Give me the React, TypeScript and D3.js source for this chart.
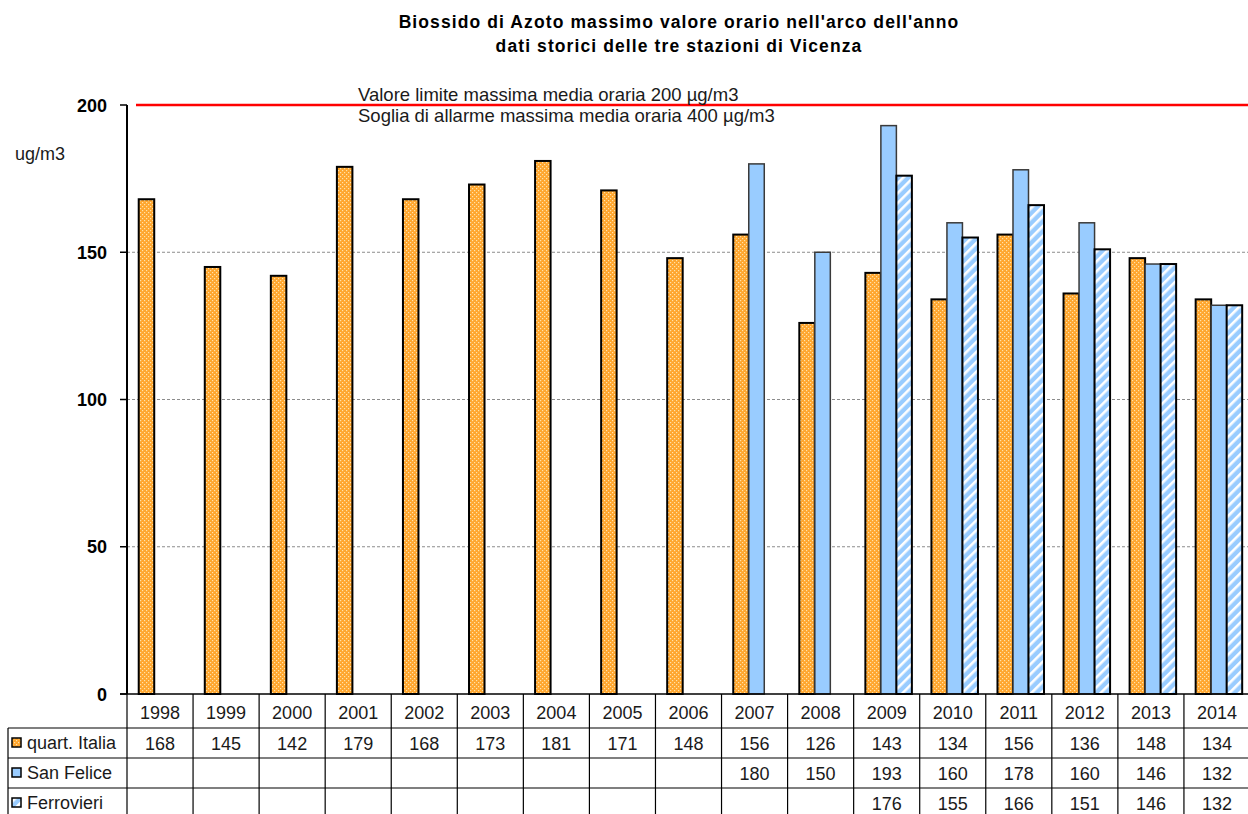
import * as d3 from "d3";

const years = ["1998", "1999", "2000", "2001", "2002", "2003", "2004", "2005", "2006", "2007", "2008", "2009", "2010", "2011", "2012", "2013", "2014"];
const italia = [168, 145, 142, 179, 168, 173, 181, 171, 148, 156, 126, 143, 134, 156, 136, 148, 134];
const sanFelice = [null, null, null, null, null, null, null, null, null, 180, 150, 193, 160, 178, 160, 146, 132];
const ferrovieri = [null, null, null, null, null, null, null, null, null, null, null, 176, 155, 166, 151, 146, 132];
const seriesNames = ["quart. Italia", "San Felice", "Ferrovieri"];
const yTicks = [0, 50, 100, 150, 200];
const limitValue = 200;

const W = 1248;
const H = 814;
const FONT = "Arial, 'Liberation Sans', sans-serif";
const TEXT = "#1a1a1a";

const fills = ["url(#pItalia)", "#99CCFF", "url(#pFerro)"];
const strokes = ["#000", "#3a3a3a", "#000"];

export default function App() {
  const x = d3.scaleBand<string>().domain(years).range([127, 1250]);
  const y = d3.scaleLinear().domain([0, 200]).range([694, 105]);
  const slot = d3
    .scaleBand<number>()
    .domain([0, 1, 2])
    .range([0, x.bandwidth()])
    .paddingInner(0)
    .paddingOuter(0.63)
    .align(0.6);
  const series = [italia, sanFelice, ferrovieri];

  const rowTop = [728, 758, 788];

  return (
    <svg width={W} height={H} style={{ position: "absolute", left: 0, top: 0, background: "#fff" }} fontFamily={FONT}>
      <defs>
        <pattern id="pItalia" width="4" height="4" patternUnits="userSpaceOnUse">
          <rect width="4" height="4" fill="#FFA62E" />
          <rect x="0" y="0" width="1.2" height="1.2" fill="#FFE2AA" />
          <rect x="2" y="2" width="1.2" height="1.2" fill="#FFE2AA" />
        </pattern>
        <pattern id="pFerro" width="7" height="7" patternUnits="userSpaceOnUse" patternTransform="rotate(45)">
          <rect width="7" height="7" fill="#99CCFF" />
          <rect x="0" y="0" width="2.6" height="7" fill="#fff" />
        </pattern>
      </defs>

      {/* title */}
      <text x={679} y={28} textAnchor="middle" fontSize={17.5} fontWeight="bold" fill="#000" letterSpacing="1.1">
        Biossido di Azoto massimo valore orario nell'arco dell'anno
      </text>
      <text x={679} y={52} textAnchor="middle" fontSize={17.5} fontWeight="bold" fill="#000" letterSpacing="1.1">
        dati storici delle tre stazioni di Vicenza
      </text>

      {/* gridlines */}
      {yTicks.filter((t) => t > 0 && t < 200).map((t) => (
        <line key={t} x1={127} x2={W} y1={y(t)} y2={y(t)} stroke="#8c8c8c" strokeDasharray="3,2" strokeWidth={1} />
      ))}

      {/* y axis */}
      <line x1={127} x2={127} y1={y(200)} y2={y(0)} stroke="#000" strokeWidth={2} />
      {yTicks.map((t) => (
        <g key={t}>
          <line x1={120} x2={127} y1={y(t)} y2={y(t)} stroke="#000" strokeWidth={1.5} />
          <text x={107} y={y(t) + 6.5} textAnchor="end" fontSize={18} fontWeight="bold" fill="#000">{t}</text>
        </g>
      ))}
      <text x={15} y={160} fontSize={18} fill={TEXT}>ug/m3</text>

      {/* bars */}
      {series.map((vals, si) =>
        vals.map((v, i) =>
          v == null ? null : (
            <rect
              key={`${si}-${i}`}
              x={(x(years[i]) as number) + (slot(si) as number)}
              y={y(v)}
              width={slot.bandwidth()}
              height={y(0) - y(v)}
              fill={fills[si]}
              stroke={strokes[si]}
              strokeWidth={si === 1 ? 1.5 : 2}
            />
          )
        )
      )}

      {/* limit line */}
      <line x1={136} x2={W} y1={y(limitValue)} y2={y(limitValue)} stroke="#FF0000" strokeWidth={2.5} />
      <text x={358} y={101} fontSize={18.5} fill={TEXT}>Valore limite massima media oraria 200 µg/m3</text>
      <text x={358} y={122} fontSize={18.5} fill={TEXT}>Soglia di allarme massima media oraria 400 µg/m3</text>

      {/* x axis */}
      <line x1={120} x2={W} y1={y(0)} y2={y(0)} stroke="#000" strokeWidth={1.5} />

      {/* data table */}
      <g stroke="#000" strokeWidth={1.2}>
        {rowTop.map((t) => (
          <line key={t} x1={8} x2={W} y1={t} y2={t} />
        ))}
        <line x1={8} x2={8} y1={rowTop[0]} y2={H} />
        {years.map((yr) => (
          <line key={yr} x1={x(yr) as number} x2={x(yr) as number} y1={y(0)} y2={H} />
        ))}
      </g>
      {years.map((yr) => (
        <text key={yr} x={(x(yr) as number) + x.bandwidth() / 2} y={718.5} textAnchor="middle" fontSize={18} fill={TEXT}>{yr}</text>
      ))}
      {series.map((vals, si) => (
        <g key={si}>
          <rect x={12} y={rowTop[si] + 10} width={9} height={9} fill={fills[si]} stroke="#000" strokeWidth={1.5} />
          <text x={27} y={rowTop[si] + 21} fontSize={18} fill={TEXT}>{seriesNames[si]}</text>
          {vals.map((v, i) =>
            v == null ? null : (
              <text key={i} x={(x(years[i]) as number) + x.bandwidth() / 2} y={rowTop[si] + 22} textAnchor="middle" fontSize={18} fill={TEXT}>{v}</text>
            )
          )}
        </g>
      ))}
    </svg>
  );
}
